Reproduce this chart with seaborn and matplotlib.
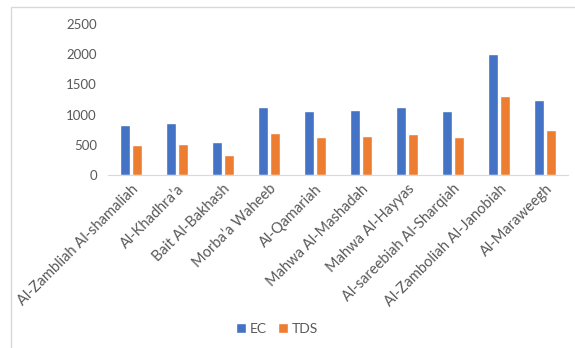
import numpy as np
import pandas as pd
import seaborn as sns
import matplotlib.pyplot as plt
from matplotlib.patches import Rectangle

sites = ["Al-Zambliah Al-shamaliah", "Al-Khadhra\u2019a", "Bait Al-Bakhash",
         "Morba\u2019a Waheeb", "Al-Qamariah", "Mahwa Al-Mashadah",
         "Mahwa Al-Hayyas", "Al-sareebiah Al-Sharqiah",
         "Al-Zamboliah Al-Janobiah", "Al-Maraweegh"]
ec = [820, 860, 540, 1130, 1060, 1080, 1130, 1060, 2005, 1245]
tds = [490, 515, 330, 695, 630, 648, 680, 630, 1305, 746]

df = pd.DataFrame({"site": sites * 2,
                   "value": ec + tds,
                   "param": ["EC"] * len(sites) + ["TDS"] * len(sites)})

sns.set_style("white")
plt.rcParams['font.family'] = ['Lato', 'DejaVu Sans']
txt = "#595959"

fig = plt.figure(figsize=(5.75, 3.48), dpi=100)
ax = fig.add_axes([108 / 575, 1 - 175 / 348, 460 / 575, 151 / 348])

sns.barplot(data=df, x="site", y="value", hue="param",
            palette=["#4472C4", "#ED7D31"], saturation=1,
            width=0.55, gap=0.2, ax=ax, legend=True)

ax.set_ylim(0, 2500)
ax.set_xlim(-0.5, len(sites) - 0.5)
ax.set_yticks(np.arange(0, 2501, 500))
ax.set_xlabel("")
ax.set_ylabel("")
for s in ["top", "right", "left"]:
    ax.spines[s].set_visible(False)
ax.spines["bottom"].set_color("#d9d9d9")
ax.tick_params(axis="both", length=0, colors=txt, labelsize=9.5)
ax.tick_params(axis="y", pad=8)
ax.tick_params(axis="x", pad=5)
plt.setp(ax.get_xticklabels(), rotation=45, ha="right",
         rotation_mode="anchor", fontsize=10.5)

ax.legend(loc="center", bbox_to_anchor=(0.482, 0.055),
          bbox_transform=fig.transFigure, ncol=2, frameon=False,
          fontsize=10, labelcolor=txt, handlelength=0.7, handleheight=0.7,
          handletextpad=0.3, columnspacing=0.8)

fig.patches.append(Rectangle((11 / 575, -0.05), 1.0, 1 - 6.5 / 348 + 0.05,
                             transform=fig.transFigure, fill=False,
                             edgecolor="#d9d9d9", linewidth=1))

fig.savefig("out.png", dpi=100)
